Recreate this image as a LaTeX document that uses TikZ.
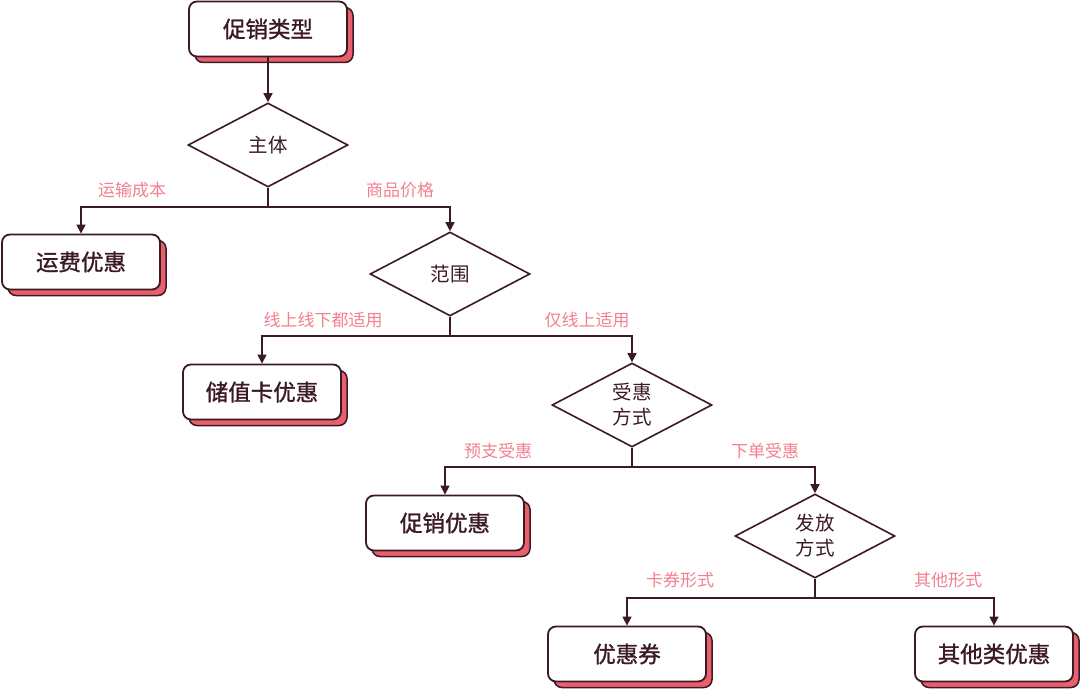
\documentclass[tikz,border=0pt]{standalone}
\usepackage{fontspec}
\setmainfont{Noto Sans CJK SC}
\newfontfamily\boxfont{Noto Sans CJK SC}[FakeBold=1.2]
\usetikzlibrary{shapes.geometric,shadows,arrows.meta}
\definecolor{dk}{HTML}{3B1A26}
\definecolor{pk}{HTML}{E9606D}
\definecolor{lb}{HTML}{F2808F}
\tikzset{
  boxn/.style={rectangle, rounded corners=8pt, draw=dk, line width=1.8pt, fill=white,
    minimum width=158pt, minimum height=55pt, inner sep=0pt, font=\boxfont\fontsize{22.5}{24}\selectfont, text=dk,
    copy shadow={shadow xshift=6pt, shadow yshift=-6pt, fill=pk, draw=dk, line width=1.5pt}},
  dia/.style={diamond, draw=dk, line width=1.6pt, fill=white, minimum width=160pt, minimum height=84pt,
    inner sep=0pt, align=center, font=\fontsize{19.5}{25}\selectfont, text=dk},
  conn/.style={draw=dk, line width=1.5pt},
  arr/.style={conn, -{Triangle[length=9pt,width=9pt]}},
  lab/.style={text=lb, font=\fontsize{17}{19}\selectfont, inner sep=0pt}
}
\begin{document}
\begin{tikzpicture}[x=1pt,y=-1pt]
\useasboundingbox (0,0) rectangle (1080,690);
% nodes
\node[boxn] (top) at (268,29) {促销类型};
\node[dia] (zt) at (268,145) {主体};
\node[boxn] (yf) at (81,262) {运费优惠};
\node[dia] (fw) at (450,274) {范围};
\node[boxn] (cz) at (262,392) {储值卡优惠};
\node[dia] (sh) at (632,405) {受惠\\方式};
\node[boxn] (cx) at (445,523) {促销优惠};
\node[dia] (ff) at (815,536) {发放\\方式};
\node[boxn] (yhq) at (627,654) {优惠券};
\node[boxn] (qt) at (994,654) {其他类优惠};
% junction rows
\coordinate (r1) at (0,207);
\coordinate (r2) at (0,336);
\coordinate (r3) at (0,467);
\coordinate (r4) at (0,598);
% connectors
\draw[arr] (top.south) -- (zt.north);
\draw[conn] (zt.south) -- (zt.south |- r1);
\draw[arr] (zt.south |- r1) -| (yf.north);
\draw[arr] (zt.south |- r1) -| (fw.north);
\draw[conn] (fw.south) -- (fw.south |- r2);
\draw[arr] (fw.south |- r2) -| (cz.north);
\draw[arr] (fw.south |- r2) -| (sh.north);
\draw[conn] (sh.south) -- (sh.south |- r3);
\draw[arr] (sh.south |- r3) -| (cx.north);
\draw[arr] (sh.south |- r3) -| (ff.north);
\draw[conn] (ff.south) -- (ff.south |- r4);
\draw[arr] (ff.south |- r4) -| (yhq.north);
\draw[arr] (ff.south |- r4) -| (qt.north);
% labels
\node[lab] (l1) at (132,190) {运输成本};
\node[lab] (l2) at (400,190) {商品价格};
\node[lab] (l3) at (323,320) {线上线下都适用};
\node[lab] (l4) at (587,320) {仅线上适用};
\node[lab] (l5) at (498,451) {预支受惠};
\node[lab] (l6) at (765,451) {下单受惠};
\node[lab] (l7) at (680,580) {卡券形式};
\node[lab] (l8) at (948,580) {其他形式};
\end{tikzpicture}
\end{document}
